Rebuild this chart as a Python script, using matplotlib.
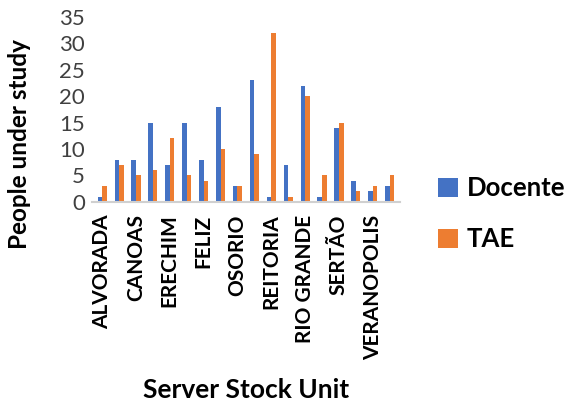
import matplotlib.pyplot as plt
import numpy as np

units = ['ALVORADA', 'BENTO GONÇALVES', 'CANOAS', 'CAXIAS DO SUL', 'ERECHIM',
         'FARROUPILHA', 'FELIZ', 'IBIRUBÁ', 'OSORIO', 'PORTO ALEGRE', 'REITORIA',
         'RESTINGA', 'RIO GRANDE', 'ROLANTE', 'SERTÃO', 'VACARIA', 'VERANOPOLIS',
         'VIAMÃO']
docente = [1, 8, 8, 15, 7, 15, 8, 18, 3, 23, 1, 7, 22, 1, 14, 4, 2, 3]
tae = [3, 7, 5, 6, 12, 5, 4, 10, 3, 9, 32, 1, 20, 5, 15, 2, 3, 5]

plt.rcParams['font.family'] = ['Lato', 'DejaVu Sans']

fig = plt.figure(figsize=(5.68, 4.03), dpi=100)
ax = fig.add_axes([0.162, 0.499, 0.542, 0.459])

x = np.arange(len(units))
w = 0.27
ax.bar(x - w / 2, docente, w, color='#4472C4', label='Docente')
ax.bar(x + w / 2, tae, w, color='#ED7D31', label='TAE')

ax.set_xlim(-0.6, len(units) - 0.4)
ax.set_ylim(0, 35)
ax.set_yticks(range(0, 36, 5))
ax.tick_params(axis='y', length=0, labelsize=16, colors='#404040', pad=5)
# only every other unit gets a label, like the original
ax.set_xticks(x[::2])
ax.set_xticklabels(units[::2], rotation=90, fontsize=15, fontweight='bold')
ax.tick_params(axis='x', length=0, pad=9)
for s in ['top', 'right', 'left']:
    ax.spines[s].set_visible(False)
ax.spines['bottom'].set_color('#d0d0d0')
ax.spines['bottom'].set_linewidth(1.5)

ax.set_ylabel('People under study', fontsize=17.5, fontweight='bold')
ax.yaxis.set_label_coords(-0.198, 0.31)
ax.set_xlabel('Server Stock Unit', fontsize=19, fontweight='bold', labelpad=13)

fig.legend(loc='center left', bbox_to_anchor=(0.772, 0.47), frameon=False,
           handlelength=0.75, handleheight=0.75, handletextpad=0.35,
           labelspacing=1.05, borderaxespad=0, borderpad=0,
           prop={'weight': 'bold', 'size': 18.5})

fig.savefig('out.png')
